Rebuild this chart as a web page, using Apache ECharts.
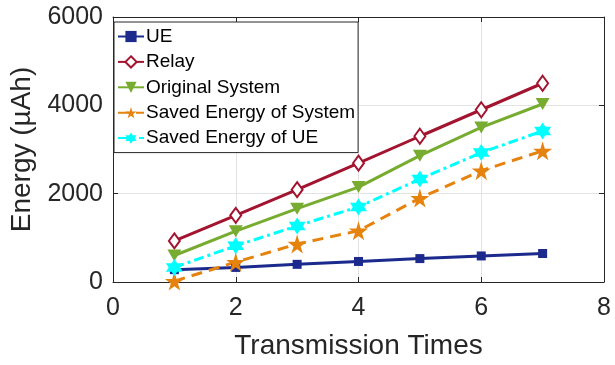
<!DOCTYPE html>
<html lang="en">
<head>
    <meta charset="UTF-8">
    <title>Energy vs Transmission Times</title>
    <script src="https://cdn.jsdelivr.net/npm/echarts@6/dist/echarts.min.js"></script>
    <style>
        html, body { margin: 0; padding: 0; background: #fff; }
    </style>
</head>
<body>
    <div id="ec" style="width:615px;height:365px"></div>
</body>
<script>
    // data
    var times = [1, 2, 3, 4, 5, 6, 7]
    var ue = [280, 330, 400, 465, 530, 590, 645]
    var relay = [930, 1510, 2090, 2690, 3300, 3900, 4500]
    var original = [600, 1150, 1660, 2150, 2860, 3500, 4030]
    var savedSystem = [20, 450, 860, 1160, 1900, 2520, 2970]
    var savedUE = [330, 820, 1270, 1700, 2330, 2930, 3420]
    var xTicks = [0, 2, 4, 6, 8]
    var yTicks = [0, 2000, 4000, 6000]

    var starPath = 'path://M50,0 L61,35 L98,35 L68,57 L79,91 L50,70 L21,91 L32,57 L2,35 L39,35 Z'
    var hexPath = 'path://M50,0 L64,25 L93,25 L79,50 L93,75 L64,75 L50,100 L36,75 L7,75 L21,50 L7,25 L36,25 Z'
    var font = 'Liberation Sans, Arial, sans-serif'
    var txt = '#262626'

    function pairs(vals) {
        return times.map(function (t, i) { return [t, vals[i]] })
    }

    function mkSeries(name, vals, color, symbol, size, lineType, rotate) {
        return {
            name: name,
            type: 'line',
            data: pairs(vals),
            symbol: symbol,
            symbolSize: size,
            symbolRotate: rotate || 0,
            showAllSymbol: true,
            itemStyle: { color: color, borderColor: color, borderWidth: symbol === 'emptyDiamond' ? 2.5 : 0 },
            lineStyle: { color: color, width: 3, type: lineType || 'solid' },
            emphasis: { disabled: true },
            animation: false
        }
    }

    var chart = echarts.init(document.getElementById('ec'))
    var options = {
        animation: false,
        textStyle: { fontFamily: font },
        grid: { left: 110, right: 11, top: 17, bottom: 82, show: false },
        legend: {
            orient: 'vertical',
            left: 114,
            top: 22,
            padding: [5, 3, 5, 3],
            itemGap: 6.4,
            itemWidth: 26,
            itemHeight: 14,
            backgroundColor: '#fff',
            borderColor: '#262626',
            borderWidth: 1,
            borderRadius: 0,
            textStyle: { fontSize: 19, color: '#000', fontFamily: font, lineHeight: 19, padding: [0, 0, 0, -3] },
            data: ['UE', 'Relay', 'Original System', 'Saved Energy of System', 'Saved Energy of UE']
        },
        xAxis: [{
            type: 'value',
            min: xTicks[0],
            max: xTicks[xTicks.length - 1],
            interval: 2,
            name: 'Transmission Times',
            nameLocation: 'middle',
            nameGap: 50,
            nameTextStyle: { fontSize: 28, color: txt, fontFamily: font },
            axisLine: { show: true, lineStyle: { color: txt, width: 1 } },
            axisTick: { show: true, inside: true, length: 5, lineStyle: { color: txt } },
            axisLabel: { fontSize: 25, color: txt, margin: 14 },
            splitLine: { show: true, lineStyle: { color: '#e3e3e3', width: 1 } }
        }, {
            type: 'value',
            position: 'top',
            min: xTicks[0],
            max: xTicks[xTicks.length - 1],
            interval: 2,
            axisLine: { show: true, onZero: false, lineStyle: { color: txt, width: 1 } },
            axisTick: { show: true, inside: true, length: 5, lineStyle: { color: txt } },
            axisLabel: { show: false },
            splitLine: { show: false }
        }],
        yAxis: [{
            type: 'value',
            min: yTicks[0],
            max: yTicks[yTicks.length - 1],
            interval: 2000,
            name: 'Energy (µAh)',
            nameLocation: 'middle',
            nameGap: 77,
            nameTextStyle: { fontSize: 28, color: txt, fontFamily: font },
            axisLine: { show: true, lineStyle: { color: txt, width: 1 } },
            axisTick: { show: true, inside: true, length: 5, lineStyle: { color: txt } },
            axisLabel: { fontSize: 25, color: txt, margin: 10, formatter: function (v) { return String(v) } },
            splitLine: { show: true, lineStyle: { color: '#e3e3e3', width: 1 } }
        }, {
            type: 'value',
            position: 'right',
            min: yTicks[0],
            max: yTicks[yTicks.length - 1],
            interval: 2000,
            axisLine: { show: true, onZero: false, lineStyle: { color: txt, width: 1 } },
            axisTick: { show: true, inside: true, length: 5, lineStyle: { color: txt } },
            axisLabel: { show: false },
            splitLine: { show: false }
        }],
        series: [
            mkSeries('UE', ue, '#1b2a8c', 'rect', 9),
            mkSeries('Relay', relay, '#a2142f', 'emptyDiamond', [11, 15]),
            mkSeries('Original System', original, '#77ac30', 'triangle', [14, 12], 'solid', 180),
            mkSeries('Saved Energy of System', savedSystem, '#e6820e', starPath, 19, [11, 7]),
            mkSeries('Saved Energy of UE', savedUE, '#00ffff', hexPath, 17, [10, 4, 3, 4])
        ]
    }

    chart.setOption(options)
</script>
</html>
